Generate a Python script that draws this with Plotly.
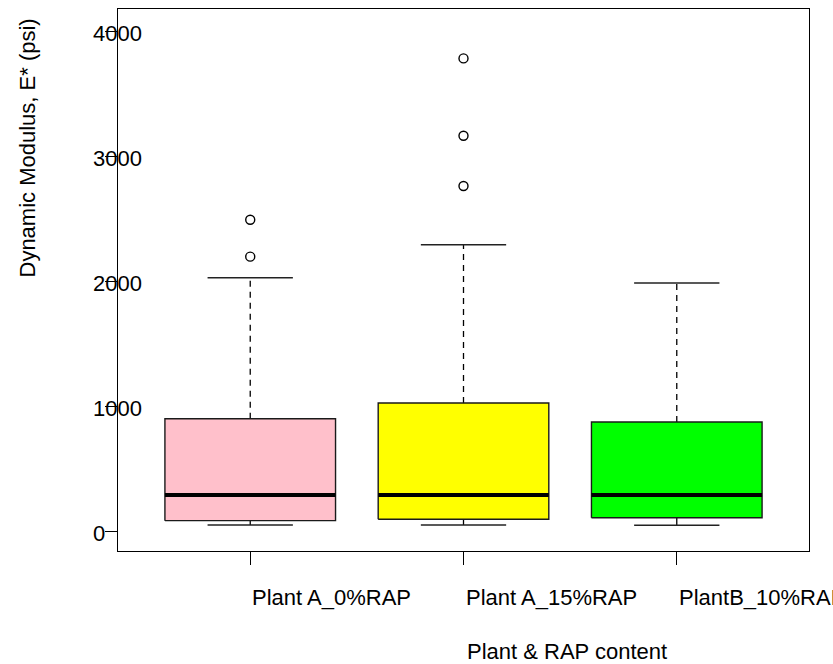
import plotly.graph_objects as go

# Dynamic modulus summary per plant / RAP content
groups = ["Plant A_0%RAP", "Plant A_15%RAP", "PlantB_10%RAP"]
fill_colors = ["#FFC0CB", "#FFFF00", "#00FF00"]
lower_whisker = [48, 48, 46]
q1 = [83, 94, 106]
median = [288, 288, 288]
q3 = [898, 1024, 872]
upper_whisker = [2026, 2290, 1984]
outliers = [[2490, 2195], [3781, 3162, 2760], []]
y_ticks = [0, 1000, 2000, 3000, 4000]

FONT = "Liberation Sans, Arial, sans-serif"
FS = 22
HALF_W = 0.4      # half box width in x units
CAP_HALF = 0.2    # half staple width

fig = go.Figure()

for i, name in enumerate(groups):
    c = i + 1
    # whiskers (dashed)
    fig.add_trace(go.Scatter(
        x=[c, c], y=[q3[i], upper_whisker[i]], mode="lines",
        line=dict(color="black", width=1.3, dash="6px,5px"),
        hoverinfo="skip", showlegend=False))
    fig.add_trace(go.Scatter(
        x=[c, c], y=[lower_whisker[i], q1[i]], mode="lines",
        line=dict(color="black", width=1.3),
        hoverinfo="skip", showlegend=False))
    # staples
    for v in (upper_whisker[i], lower_whisker[i]):
        fig.add_trace(go.Scatter(
            x=[c - CAP_HALF, c + CAP_HALF], y=[v, v], mode="lines",
            line=dict(color="#222222", width=1.5),
            hoverinfo="skip", showlegend=False))
    # box
    fig.add_trace(go.Scatter(
        x=[c - HALF_W, c + HALF_W, c + HALF_W, c - HALF_W, c - HALF_W],
        y=[q1[i], q1[i], q3[i], q3[i], q1[i]],
        mode="lines", fill="toself", fillcolor=fill_colors[i],
        line=dict(color="#1a1a1a", width=1.4),
        name=name, hoverinfo="skip", showlegend=False))
    # median
    fig.add_trace(go.Scatter(
        x=[c - HALF_W, c + HALF_W], y=[median[i], median[i]], mode="lines",
        line=dict(color="black", width=4),
        hoverinfo="skip", showlegend=False))
    # outliers
    if outliers[i]:
        fig.add_trace(go.Scatter(
            x=[c] * len(outliers[i]), y=outliers[i], mode="markers",
            marker=dict(symbol="circle-open", size=9, color="black",
                        line=dict(width=1.4, color="black")),
            hoverinfo="skip", showlegend=False))

annotations = []
# y tick labels
for v in y_ticks:
    annotations.append(dict(
        x=0, xref="paper", xanchor="left", xshift=-27,
        y=v, yref="y", yanchor="middle", yshift=-2,
        text=str(v), showarrow=False,
        font=dict(family=FONT, size=FS, color="black")))
# x tick labels
for i, name in enumerate(groups):
    annotations.append(dict(
        x=i + 1, xref="x", xanchor="left", xshift=0,
        y=0, yref="paper", yanchor="middle", yshift=-46,
        text=name, showarrow=False,
        font=dict(family=FONT, size=FS, color="black")))
# axis titles
annotations.append(dict(
    x=0.5, xref="paper", xanchor="left", xshift=1,
    y=0, yref="paper", yanchor="middle", yshift=-100,
    text="Plant & RAP content", showarrow=False,
    font=dict(family=FONT, size=FS, color="black")))
annotations.append(dict(
    x=0, xref="paper", xanchor="center", xshift=-91,
    y=0.5, yref="paper", yanchor="bottom",
    text="Dynamic Modulus, E* (psi)", textangle=-90, showarrow=False,
    font=dict(family=FONT, size=FS, color="black")))

fig.update_layout(
    width=833, height=664,
    margin=dict(l=118, r=24, t=9, b=113),
    paper_bgcolor="white", plot_bgcolor="white",
    showlegend=False,
    annotations=annotations,
    xaxis=dict(range=[0.38, 3.62], tickvals=[1, 2, 3], showticklabels=False,
               ticks="outside", ticklen=13, tickcolor="black", tickwidth=1,
               showline=True, mirror=True, linecolor="black", linewidth=1,
               showgrid=False, zeroline=False),
    yaxis=dict(range=[-160, 4176], tickvals=y_ticks, showticklabels=False,
               ticks="outside", ticklen=12, tickcolor="black", tickwidth=1,
               showline=True, mirror=True, linecolor="black", linewidth=1,
               showgrid=False, zeroline=False),
)

fig.write_html("out.html")
